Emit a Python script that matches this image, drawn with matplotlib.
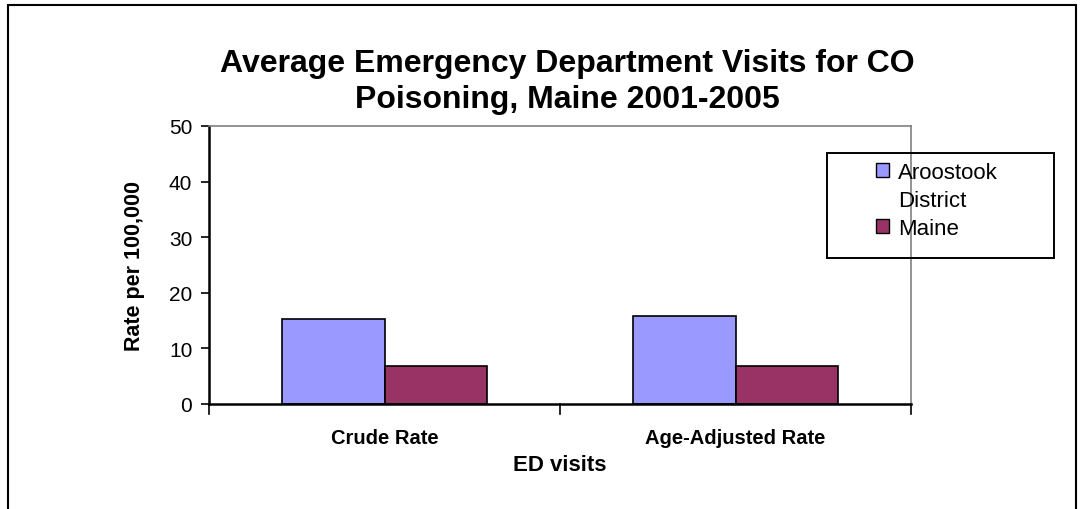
import numpy as np
import matplotlib.pyplot as plt
from matplotlib.patches import Rectangle, Patch

plt.rcParams['font.family'] = ['Liberation Sans', 'DejaVu Sans']

categorias = ['Crude Rate', 'Age-Adjusted Rate']
series = ['Aroostook District', 'Maine']
aroostook = [15.2, 15.8]
maine = [6.9, 6.9]
cores = ['#9999FF', '#993366']

fig = plt.figure(figsize=(10.83, 5.10), dpi=100)
ax = fig.add_axes([209/1083, 1-405/510, (911-209)/1083, (405-127)/510])

x = np.arange(len(categorias))
w = 0.293
ax.bar(x - w/2, aroostook, w, color=cores[0], edgecolor='black', linewidth=1.2)
ax.bar(x + w/2, maine, w, color=cores[1], edgecolor='black', linewidth=1.2)

ax.set_xlim(-0.5, 1.5)
ax.set_ylim(0, 50)
ax.set_yticks([0, 10, 20, 30, 40, 50])
ax.tick_params(axis='y', labelsize=15, length=6, width=1.2, direction='out', pad=6)
ax.set_xticks(x)
ax.set_xticklabels(categorias, fontsize=14.5, fontweight='bold')
ax.tick_params(axis='x', length=0, pad=17)
# marcas entre categorias
for xm in [-0.5, 0.5, 1.5]:
    ax.plot([xm, xm], [0, -0.035], transform=ax.get_xaxis_transform(), color='black', lw=1.2, clip_on=False)

for s in ['top', 'right']:
    ax.spines[s].set_color('#808080')
    ax.spines[s].set_linewidth(1.2)
ax.spines['left'].set_linewidth(1.8)
ax.spines['bottom'].set_linewidth(1.8)

ax.set_xlabel('ED visits', fontsize=16, fontweight='bold', labelpad=5)
ax.set_ylabel('Rate per 100,000', fontsize=15.5, fontweight='bold', labelpad=17)

fig.text(0.524, 1-82/510, 'Average Emergency Department Visits for CO\nPoisoning, Maine 2001-2005',
         ha='center', va='center', fontsize=23, fontweight='bold', linespacing=1.25)

# legenda (texto quebrado como no original)
handles = [Patch(facecolor=cores[0], edgecolor='black', linewidth=1),
           Patch(facecolor='none', edgecolor='none'),
           Patch(facecolor=cores[1], edgecolor='black', linewidth=1)]
rotulos = series[0].split(' ') + [series[1]]
fig.legend(handles, rotulos, loc='upper left', bbox_to_anchor=(876/1083, 1-163/510),
           fontsize=16, frameon=False, handlelength=0.6, handleheight=0.6,
           handletextpad=0.4, labelspacing=0.32, borderpad=0, borderaxespad=0)
fig.patches.append(Rectangle((827/1083, 1-259/510), (1054-827)/1083, (259-154)/510,
                             transform=fig.transFigure, fill=False, edgecolor='black', linewidth=1.4))

fig.patches.append(Rectangle((8/1083, -0.1), (1076-8)/1083, 1.1 - 6/510, transform=fig.transFigure,
                             fill=False, edgecolor='black', linewidth=1.5))

fig.savefig('out.png', dpi=100)
